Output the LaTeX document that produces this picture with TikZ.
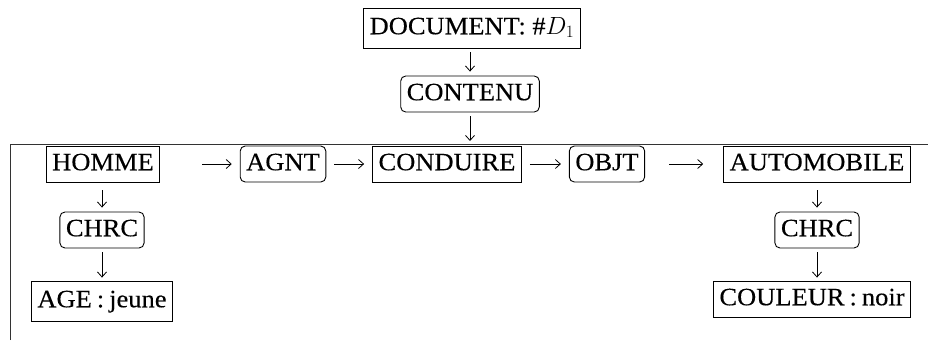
\documentclass[tikz,border=0pt]{standalone}
\usepackage{fontspec}
\setmainfont{Liberation Serif}[FakeStretch=1.06, FakeBold=0.2]
\usetikzlibrary{arrows.meta}
\tikzset{
  base/.style={draw, line width=0.9pt, font=\fontsize{25}{28}\selectfont, inner xsep=6pt, inner ysep=0pt, text height=17.5pt, text depth=5pt, minimum height=36pt},
  sqbox/.style={base},
  rbox/.style={base, rounded corners=5pt},
  conn/.style={line width=0.8pt, -{Straight Barb[length=5pt,width=9pt,line width=0.8pt]}},
  frame/.style={line width=0.7pt, black!80}
}
\begin{document}
\begin{tikzpicture}[x=1pt,y=-1pt]
\useasboundingbox (0,0) rectangle (928,349);
\node[sqbox, minimum height=40pt] (doc) at (472,28) {DOCUMENT: \#$D_1$};
\node[rbox] (contenu) at (470,94) {CONTENU};
\coordinate (tl) at (10,144);
\coordinate (tr) at (928,144);
\coordinate (bl) at (10,340);
\draw[frame] (bl) -- (tl) -- (tr);
\node[sqbox] (homme) at (103,164) {HOMME};
\node[rbox] (agnt) at (283,164) {AGNT};
\node[sqbox] (conduire) at (447,164) {CONDUIRE};
\node[rbox] (objt) at (607,164) {OBJT};
\node[sqbox] (auto) at (817,164) {AUTOMOBILE};
\node[rbox] (chrc1) at (102,230) {CHRC};
\node[sqbox, minimum height=40pt] (age) at (102,301) {AGE\hspace{5pt}:\hspace{5pt}jeune};
\node[rbox] (chrc2) at (817,230) {CHRC};
\node[sqbox] (coul) at (812,299) {COULEUR\hspace{5pt}:\hspace{5pt}noir};
\coordinate (cline) at (contenu.south |- tl);
\draw[conn, shorten <=4pt, shorten >=4pt] (doc.south -| contenu) -- (contenu.north);
\draw[conn, shorten <=4pt, shorten >=3pt] (contenu.south) -- (cline);
\draw[conn, shorten <=42pt, shorten >=8pt] (homme.east) -- (agnt.west);
\draw[conn, shorten <=8pt, shorten >=8pt] (agnt.east) -- (conduire.west);
\draw[conn, shorten <=8pt, shorten >=8pt] (conduire.east) -- (objt.west);
\draw[conn, shorten <=24pt, shorten >=20pt] (objt.east) -- (auto.west);
\draw[conn, shorten <=8pt, shorten >=4pt] (homme.south -| chrc1) -- (chrc1.north);
\draw[conn, shorten <=4pt, shorten >=3pt] (chrc1.south) -- (age.north);
\draw[conn, shorten <=8pt, shorten >=4pt] (auto.south -| chrc2) -- (chrc2.north);
\draw[conn, shorten <=4pt, shorten >=3pt] (chrc2.south) -- (coul.north -| chrc2);
\end{tikzpicture}
\end{document}
